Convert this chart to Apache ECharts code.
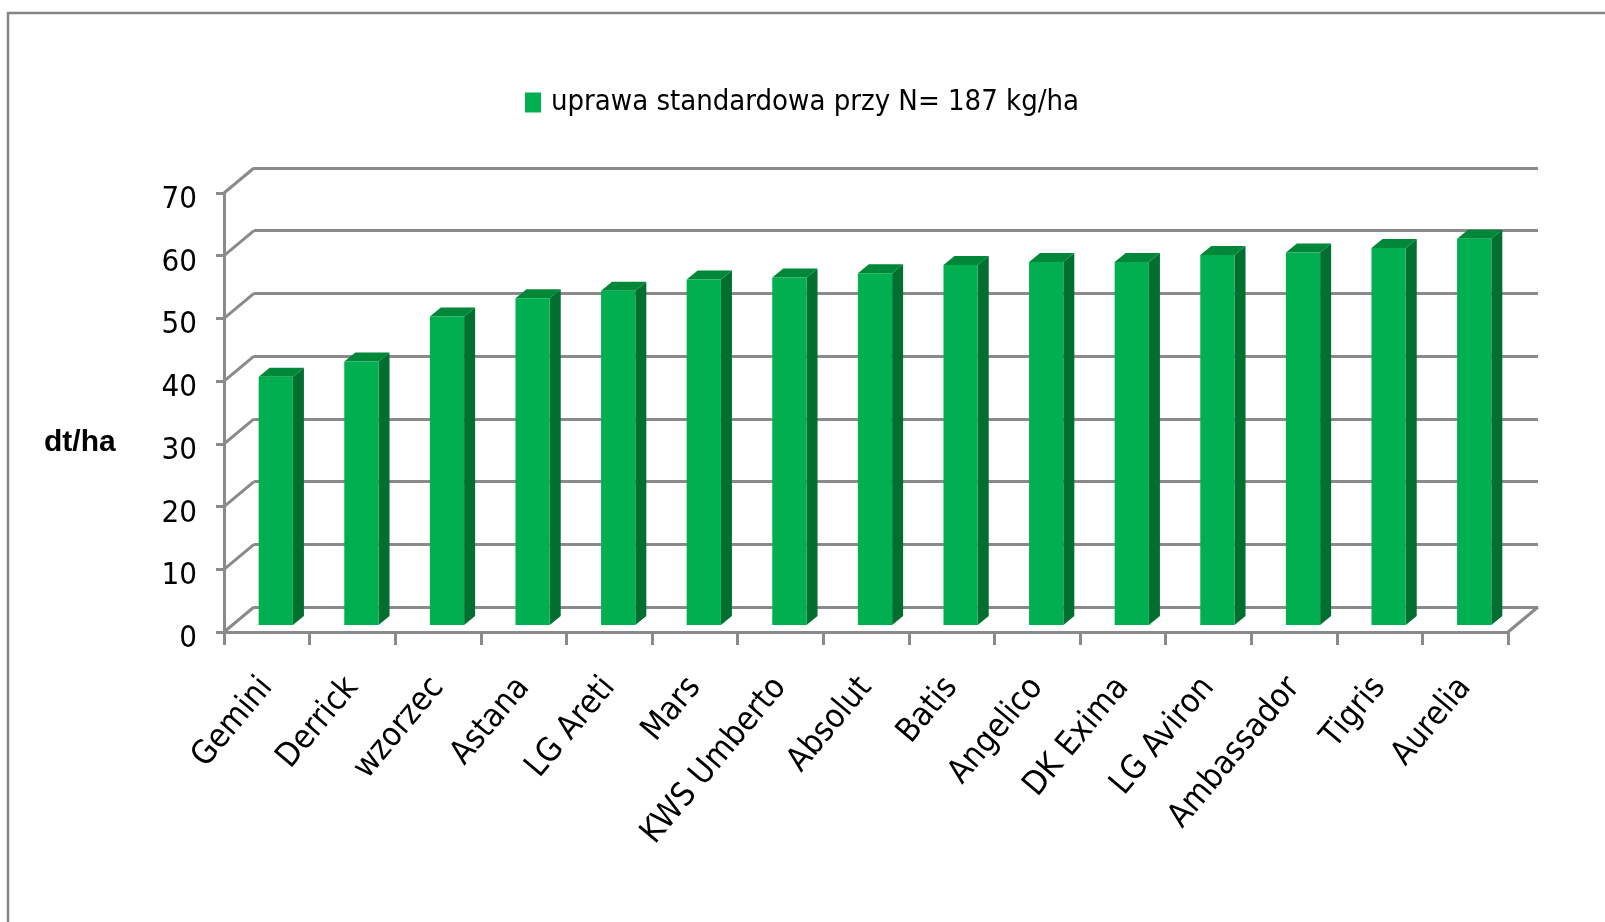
<!DOCTYPE html>
<html>
<head>
<meta charset="utf-8">
<title>uprawa standardowa</title>
<script src="https://cdn.jsdelivr.net/npm/echarts@6/dist/echarts.min.js"></script>
<style>
    html, body { margin: 0; padding: 0; background: #fff; }
    #chart1 { width: 1605px; height: 922px; }
</style>
</head>
<body>
<div id="chart1"></div>
<script>
// dane
var categories = ['Gemini', 'Derrick', 'wzorzec', 'Astana', 'LG Areti', 'Mars', 'KWS Umberto', 'Absolut',
    'Batis', 'Angelico', 'DK Exima', 'LG Aviron', 'Ambassador', 'Tigris', 'Aurelia'];
var values = [39.6, 42.0, 49.2, 52.1, 53.3, 55.1, 55.4, 56.1, 57.4, 57.9, 57.9, 59.0, 59.4, 60.1, 61.6];
var yTicks = [0, 10, 20, 30, 40, 50, 60, 70];
var seriesName = 'uprawa standardowa przy N= 187 kg/ha';
var unitName = 'dt/ha';

var chart1 = echarts.init(document.getElementById('chart1'));

var FONT = "'Liberation Sans Narrow', 'Arial Narrow', 'DejaVu Sans Condensed', 'Liberation Sans', sans-serif";
var gridColor = '#8a8a8a';
var lineW = 3;
var wallDx = 30, wallDy = -25;   // tylna sciana wzgledem przedniej osi
var faceDx = 9, faceDy = -7;     // przednia scianka slupka
var barDx = 11, barDy = -9;      // glebokosc slupka

/** slupek 3D: przod, bok i gora */
function renderBar(params, api) {
    var i = api.value(0);
    var base = api.coord([i, 0]);
    var top = api.coord([i, api.value(1)]);
    var band = api.size([1, 0])[0];
    var w = band * 0.4;
    var xl = base[0] + faceDx - w / 2;
    var xr = xl + w;
    var yt = top[1] + faceDy;
    var yb = base[1] + faceDy;
    return {
        type: 'group',
        children: [
            {
                type: 'polygon',
                shape: { points: [[xr, yt], [xr + barDx, yt + barDy], [xr + barDx, yb + barDy], [xr, yb]] },
                style: { fill: '#006f2f' }
            },
            {
                type: 'polygon',
                shape: { points: [[xl, yt], [xl + barDx, yt + barDy], [xr + barDx, yt + barDy], [xr, yt]] },
                style: { fill: '#008738' }
            },
            {
                type: 'rect',
                shape: { x: xl, y: yt, width: w, height: yb - yt },
                style: { fill: '#00b050' }
            }
        ]
    };
}

/** skosne linie lewej sciany */
function renderWallEdge(params, api) {
    var p = api.coord([0, api.value(1)]);
    var x0 = p[0] - api.size([1, 0])[0] / 2;
    return {
        type: 'line',
        shape: { x1: x0, y1: p[1], x2: x0 + wallDx, y2: p[1] + wallDy },
        style: { stroke: gridColor, lineWidth: lineW }
    };
}

/** prawa krawedz podlogi */
function renderFloorEdge(params, api) {
    var p = api.coord([api.value(0), api.value(1)]);
    var x0 = p[0] + api.size([1, 0])[0] / 2;
    return {
        type: 'line',
        shape: { x1: x0, y1: p[1], x2: x0 + wallDx, y2: p[1] + wallDy },
        style: { stroke: gridColor, lineWidth: lineW }
    };
}

chart1.setOption({
    animation: false,
    textStyle: { fontFamily: FONT, color: '#000' },
    title: {
        text: unitName,
        left: 39,
        top: 423,
        textStyle: { fontFamily: "'Liberation Sans', sans-serif", fontWeight: 'bold', fontSize: 30, color: '#000' }
    },
    legend: {
        left: 525,
        top: 88,
        padding: 0,
        itemWidth: 16,
        itemHeight: 20,
        data: [{ name: seriesName, icon: 'rect' }],
        textStyle: { fontFamily: FONT, fontSize: 29, color: '#000', padding: [0, 0, 0, 5] }
    },
    graphic: [
        {
            type: 'rect',
            shape: { x: 8, y: 13, width: 1700, height: 1000 },
            style: { fill: 'none', stroke: '#858585', lineWidth: 2.5 },
            silent: true
        }
    ],
    grid: [
        { left: 224, top: 193, width: 1284, height: 439 },
        { left: 224 + wallDx, top: 193 + wallDy, width: 1284, height: 439 }
    ],
    xAxis: [
        {
            gridIndex: 0,
            type: 'category',
            data: categories,
            boundaryGap: true,
            axisLine: { lineStyle: { color: gridColor, width: lineW } },
            axisTick: { show: true, length: 13, lineStyle: { color: gridColor, width: lineW } },
            axisLabel: { interval: 0, rotate: 50, margin: 50, fontSize: 33, color: '#000', fontFamily: FONT }
        },
        {
            gridIndex: 1,
            type: 'category',
            data: categories,
            show: false
        }
    ],
    yAxis: [
        {
            gridIndex: 0,
            type: 'value',
            min: 0,
            max: 70,
            interval: 10,
            axisLine: { show: true, lineStyle: { color: gridColor, width: lineW } },
            axisTick: { show: true, length: 8, lineStyle: { color: gridColor, width: lineW } },
            axisLabel: {
                margin: 27,
                fontSize: 31,
                color: '#000',
                fontFamily: FONT,
                verticalAlign: 'top',
                lineHeight: 14
            },
            splitLine: { show: false }
        },
        {
            gridIndex: 1,
            type: 'value',
            min: 0,
            max: 70,
            interval: 10,
            axisLine: { show: false },
            axisTick: { show: false },
            axisLabel: { show: false },
            splitLine: { show: true, lineStyle: { color: gridColor, width: lineW } }
        }
    ],
    series: [
        {
            name: 'wall',
            type: 'custom',
            xAxisIndex: 0,
            yAxisIndex: 0,
            renderItem: renderWallEdge,
            data: yTicks.map(function (v) { return [0, v]; }),
            silent: true,
            z: 1
        },
        {
            name: 'floor',
            type: 'custom',
            xAxisIndex: 0,
            yAxisIndex: 0,
            renderItem: renderFloorEdge,
            data: [[categories.length - 1, 0]],
            silent: true,
            z: 1
        },
        {
            name: seriesName,
            type: 'custom',
            xAxisIndex: 0,
            yAxisIndex: 0,
            itemStyle: { color: '#00b050' },
            renderItem: renderBar,
            data: values.map(function (v, i) { return [i, v]; }),
            z: 3
        }
    ]
});
</script>
</body>
</html>
